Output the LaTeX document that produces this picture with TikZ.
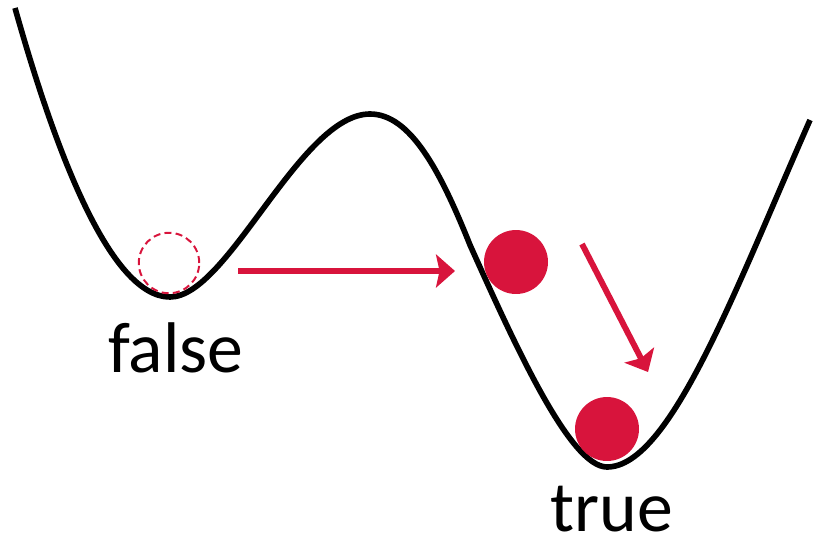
\documentclass[tikz,border=0pt]{standalone}
\usepackage{fontspec}
\setmainfont{Carlito}
\usetikzlibrary{arrows.meta}
\definecolor{ballred}{RGB}{216,20,60}
\tikzset{
    ball/.style={circle, fill=ballred, inner sep=0pt, minimum size=45.5pt},
    ghostball/.style={circle, draw=ballred, line width=1.4pt, dash pattern=on 5pt off 3pt, inner sep=0pt, minimum size=43pt},
    move/.style={ballred, line width=4.2pt, -{Stealth[length=13.5pt, width=23.5pt, inset=2.5pt]}},
    lbl/.style={anchor=base, inner sep=0pt, font=\fontsize{51}{60}\selectfont}
}
\begin{document}
\begin{tikzpicture}[x=0.025cm, y=-0.025cm]
    \useasboundingbox (0,0) rectangle (813,539);
    % double well
    \draw[line width=4pt]
        (15,8) .. controls (55,150) and (110,297) .. (170,297)
        .. controls (228,297) and (300,114) .. (370,114)
        .. controls (410,114) and (440,170) .. (470,245)
        .. controls (515,345) and (570,467) .. (607,467)
        .. controls (670,467) and (735,290) .. (810,120);
    \node[ghostball] (ghost) at (169,263) {};
    \node[ball] (ballmid) at (516,262) {};
    \node[ball] (ballend) at (607,429) {};
    \coordinate (jumpA) at (238,271);
    \coordinate (jumpB) at (455,271);
    \coordinate (rollA) at (582,244);
    \coordinate (rollB) at (648,372);
    \draw[move] (jumpA) -- (jumpB);
    \draw[move] (rollA) -- (rollB);
    \node[lbl] (lblfalse) at (176,372) {false};
    \node[lbl] (lbltrue) at (612,531) {true};
\end{tikzpicture}
\end{document}
